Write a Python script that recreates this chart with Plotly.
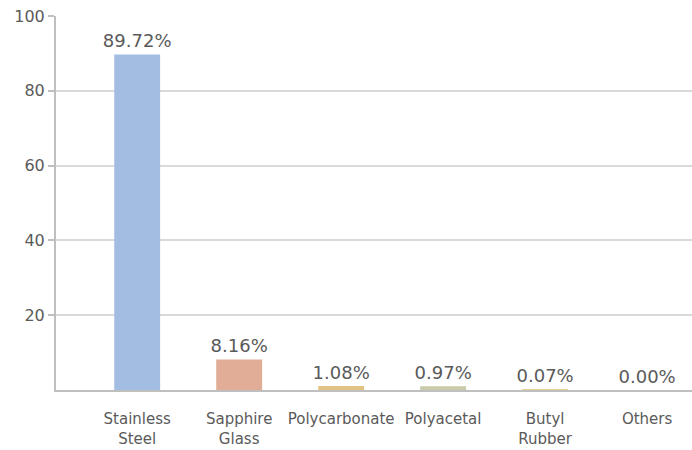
import plotly.graph_objects as go

categories = ["Stainless<br>Steel", "Sapphire<br>Glass", "Polycarbonate", "Polyacetal", "Butyl<br>Rubber", "Others"]
values = [89.72, 8.16, 1.08, 0.97, 0.07, 0.00]
colors = ["#A3BDE2", "#E1AD96", "#E3C383", "#C9CBA9", "#E6D193", "#A9C3A6"]
y_ticks = [20, 40, 60, 80, 100]

text_color = "#5A5A5A"
font_family = "DejaVu Sans, sans-serif"

fig = go.Figure(
    go.Bar(
        x=categories,
        y=values,
        marker=dict(color=colors, line=dict(width=0)),
        width=0.45,
        text=[f"{v:.2f}%" for v in values],
        textposition="outside",
        constraintext="none",
        textfont=dict(size=18, color=text_color, family=font_family),
        cliponaxis=False,
    )
)

fig.update_layout(
    width=692,
    height=450,
    margin=dict(l=56, r=0, t=16, b=60, autoexpand=False),
    paper_bgcolor="white",
    plot_bgcolor="white",
    showlegend=False,
    font=dict(family=font_family, color=text_color),
    xaxis=dict(
        range=[-0.796, 5.44],
        automargin=False,
        showgrid=False,
        showline=True,
        linecolor="#BFBFBF",
        linewidth=2,
        ticks="",
        tickfont=dict(size=15, color=text_color),
        ticklabelstandoff=14,
        zeroline=False,
    ),
    yaxis=dict(
        range=[0, 100],
        automargin=False,
        tickvals=y_ticks,
        showgrid=True,
        gridcolor="#D9D9D9",
        gridwidth=1.5,
        showline=True,
        linecolor="#BFBFBF",
        linewidth=2,
        ticks="outside",
        ticklen=6,
        tickcolor="#BFBFBF",
        tickwidth=1.5,
        tickfont=dict(size=16, color=text_color),
        zeroline=False,
    ),
)

fig.write_html(
    "out.html",
    config={"displayModeBar": False},
    post_script="document.body.style.margin='0';",
)
